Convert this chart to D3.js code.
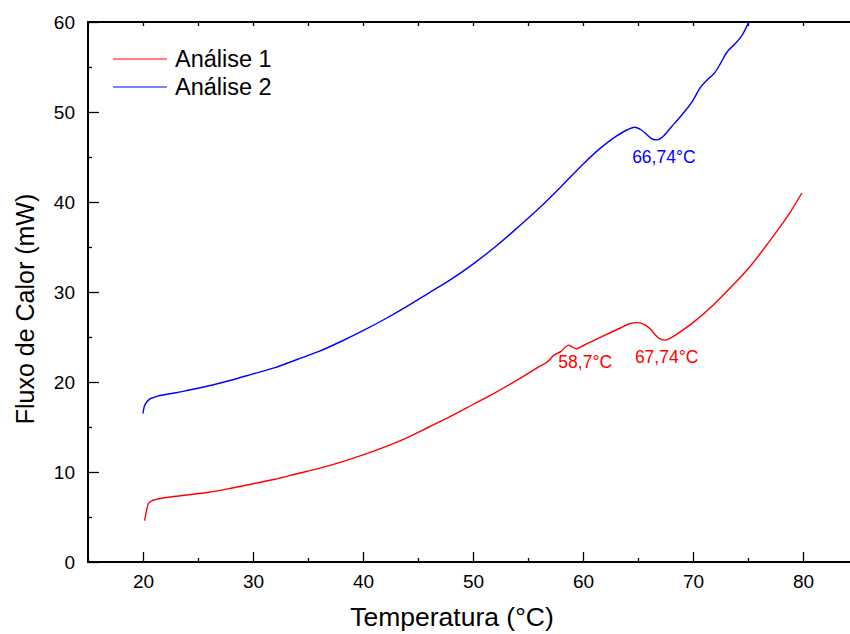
<!DOCTYPE html>
<html lang="en">
<head>
<meta charset="utf-8">
<title>Fluxo de Calor</title>
<script src="https://cdnjs.cloudflare.com/ajax/libs/d3/7.8.5/d3.min.js"></script>
<style>
  html, body { margin: 0; padding: 0; background: white; }
  svg { display: block; font-family: "Liberation Sans", Arial, sans-serif; }
  .tick text { font-size: 19px; fill: black; font-family: "Liberation Sans", Arial, sans-serif; }
</style>
</head>
<body>
<svg id="chart" width="850" height="634"></svg>
<script>
// ---- data ----
var temp1 = [20.15, 20.3, 20.5, 20.8, 21.2, 23, 26, 28, 30, 32, 34, 36, 38, 40, 42, 44, 46, 48, 50,
             52, 54, 56, 57.0, 57.2, 58.0, 58.7, 59.0, 59.4, 59.8, 60.6, 62, 63.4, 64.3, 65.0, 65.7,
             66.2, 66.6, 67.0, 67.5, 68.0, 68.5, 70, 71.8, 73.5, 75.3, 76.5, 77.6, 78.8, 79.9];
var flux1 = [4.6, 5.6, 6.5, 6.8, 6.95, 7.3, 7.75, 8.2, 8.7, 9.2, 9.8, 10.4, 11.1, 11.9, 12.8, 13.8, 15.0, 16.2, 17.5,
             18.8, 20.2, 21.7, 22.5, 22.8, 23.4, 24.1, 23.9, 23.7, 23.9, 24.4, 25.2, 26.0, 26.5, 26.6, 26.3,
             25.8, 25.2, 24.8, 24.65, 24.9, 25.3, 26.6, 28.5, 30.6, 33.0, 34.9, 36.7, 38.8, 41.0];

var temp2 = [20.0, 20.1, 20.3, 20.6, 21.0, 23, 25, 28, 30, 32, 34, 36, 38, 40, 42, 44, 46, 48, 50,
             52, 54, 56, 58, 60, 61.5, 63, 64, 64.7, 65.3, 65.8, 66.3, 66.74, 67.2, 68, 69, 70,
             70.6, 71.5, 72.0, 72.5, 73.0, 74.0, 74.5, 75.0, 75.3];
var flux2 = [16.5, 17.2, 17.7, 18.1, 18.3, 18.8, 19.3, 20.2, 20.9, 21.6, 22.5, 23.4, 24.5, 25.7, 27.0, 28.4, 29.9, 31.4, 33.1,
             35.0, 37.1, 39.3, 41.7, 44.2, 45.9, 47.3, 48.0, 48.3, 48.0, 47.5, 47.0, 46.9, 47.2, 48.3, 49.7, 51.3,
             52.6, 53.8, 54.4, 55.4, 56.5, 57.8, 58.6, 59.8, 60.6];

var seriesNames = ["Análise 1", "Análise 2"];
var seriesColors = ["#ff0000", "#0000ff"];

var xMajor = [20, 30, 40, 50, 60, 70, 80];
var xMinor = [15, 25, 35, 45, 55, 65, 75, 85];
var yMajor = [0, 10, 20, 30, 40, 50, 60];
var yMinor = [5, 15, 25, 35, 45, 55];

// peak labels: [temperature, flux, text, series]
var peakLabels = [
  [60.2, 21.55, "58,7°C", 0],
  [67.6, 22.1, "67,74°C", 0],
  [67.35, 44.35, "66,74°C", 1]
];

// ---- layout ----
var plotLeft = 88, plotTop = 22, plotBottom = 562, plotWidth = 70 * 11;
var svg = d3.select("#chart");

var x = d3.scaleLinear().domain([15, 85]).range([plotLeft, plotLeft + plotWidth]);
var y = d3.scaleLinear().domain([0, 60]).range([plotBottom, plotTop]);

svg.append("clipPath").attr("id", "plot-clip")
  .append("rect").attr("x", plotLeft).attr("y", plotTop)
  .attr("width", plotWidth).attr("height", plotBottom - plotTop);

// bottom axis
var gx = svg.append("g").attr("transform", "translate(0," + plotBottom + ")");
gx.call(d3.axisBottom(x).tickValues(xMajor).tickSize(-10).tickSizeOuter(0).tickPadding(13));
gx.append("g").call(d3.axisBottom(x).tickValues(xMinor).tickSize(-4).tickSizeOuter(0).tickFormat(""));

// top axis (no labels)
var gt = svg.append("g").attr("transform", "translate(0," + plotTop + ")");
gt.call(d3.axisTop(x).tickValues(xMajor.concat(xMinor)).tickSize(-4).tickSizeOuter(0).tickFormat(""));

// left axis
var gy = svg.append("g").attr("transform", "translate(" + plotLeft + ",0)");
gy.call(d3.axisLeft(y).tickValues(yMajor).tickSize(-11).tickSizeOuter(0).tickPadding(13));
gy.append("g").call(d3.axisLeft(y).tickValues(yMinor).tickSize(-4).tickSizeOuter(0).tickFormat(""));

svg.selectAll(".domain").remove();
svg.selectAll(".tick line").attr("stroke", "black").attr("stroke-width", 1.3);

// frame lines
svg.append("line").attr("x1", plotLeft).attr("x2", 850).attr("y1", plotBottom).attr("y2", plotBottom)
  .attr("stroke", "black").attr("stroke-width", 2);
svg.append("line").attr("x1", plotLeft).attr("x2", 850).attr("y1", plotTop).attr("y2", plotTop)
  .attr("stroke", "black").attr("stroke-width", 2);
svg.append("line").attr("x1", plotLeft).attr("x2", plotLeft).attr("y1", plotTop - 1).attr("y2", plotBottom + 1)
  .attr("stroke", "black").attr("stroke-width", 2);

// curves
var line = d3.line()
  .x(function(d) { return x(d[0]); })
  .y(function(d) { return y(d[1]); })
  .curve(d3.curveMonotoneX);

var data1 = d3.zip(temp1, flux1);
var data2 = d3.zip(temp2, flux2);

var plot = svg.append("g").attr("clip-path", "url(#plot-clip)");
plot.append("path").datum(data1).attr("d", line)
  .attr("fill", "none").attr("stroke", seriesColors[0]).attr("stroke-width", 1.4);
plot.append("path").datum(data2).attr("d", line)
  .attr("fill", "none").attr("stroke", seriesColors[1]).attr("stroke-width", 1.4);

// peak labels
svg.selectAll(".peak").data(peakLabels).enter().append("text")
  .attr("class", "peak")
  .attr("x", function(d) { return x(d[0]); })
  .attr("y", function(d) { return y(d[1]); })
  .attr("text-anchor", "middle")
  .attr("font-size", 17.5)
  .attr("fill", function(d) { return seriesColors[d[3]]; })
  .text(function(d) { return d[2]; });

// legend
var legend = svg.append("g");
seriesNames.forEach(function(name, i) {
  var ly = 59 + i * 28;
  legend.append("line").attr("x1", 113).attr("x2", 167).attr("y1", ly).attr("y2", ly)
    .attr("stroke", seriesColors[i]).attr("stroke-width", 1.2);
  legend.append("text").attr("x", 175).attr("y", ly + 8)
    .attr("font-size", 23.5).attr("fill", "black").text(name);
});

// axis titles
svg.append("text").attr("x", 452).attr("y", 626).attr("text-anchor", "middle")
  .attr("font-size", 26.5).attr("fill", "black").text("Temperatura (°C)");
svg.append("text").attr("transform", "translate(34,309) rotate(-90)").attr("text-anchor", "middle")
  .attr("font-size", 25).attr("fill", "black").text("Fluxo de Calor (mW)");
</script>
</body>
</html>
